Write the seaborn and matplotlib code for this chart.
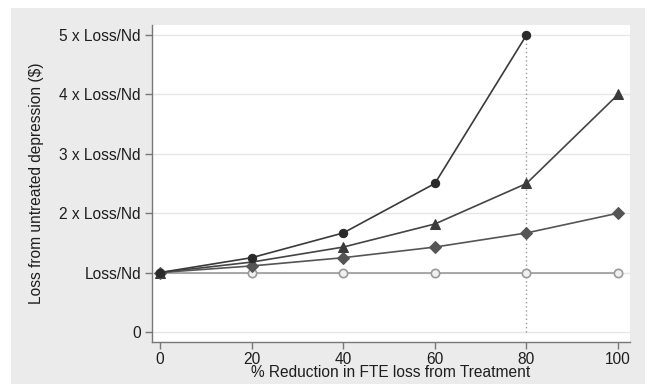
import pandas as pd
import matplotlib.pyplot as plt
from matplotlib.patches import Rectangle
import seaborn as sns

# Values
reduction = [0, 20, 40, 60, 80, 100]
loss_circle = [1.0, 1.25, 1.667, 2.5, 5.0, None]
loss_triangle = [1.0, 1.176, 1.429, 1.818, 2.5, 4.0]
loss_diamond = [1.0, 1.111, 1.25, 1.429, 1.667, 2.0]
loss_flat = [1.0, 1.0, 1.0, 1.0, 1.0, 1.0]
y_ticks = [0, 1, 2, 3, 4, 5]
y_labels = ['0', 'Loss/Nd', '2 x Loss/Nd', '3 x Loss/Nd', '4 x Loss/Nd', '5 x Loss/Nd']

df = pd.DataFrame({'x': reduction, 'circle': loss_circle, 'triangle': loss_triangle,
                   'diamond': loss_diamond, 'flat': loss_flat})

sns.set_style('white')
plt.rcParams['font.family'] = ['Liberation Sans', 'DejaVu Sans']

fig = plt.figure(figsize=(6.47, 3.84), dpi=100)
fig.patch.set_facecolor('white')
fig.patches.append(Rectangle((11 / 647, 0), 634 / 647, 376 / 384, transform=fig.transFigure,
                             facecolor='#ebebeb', edgecolor='none', zorder=-10))
ax = fig.add_axes([152 / 647, 1 - 342 / 384, 478 / 647, 317 / 384])
ax.set_facecolor('white')

# dotted reference line at 80%
ax.plot([80, 80], [0, 5], color='#999999', linestyle=(0, (1, 2)), linewidth=1, zorder=1)

sns.lineplot(data=df, x='x', y='flat', ax=ax, color='#9a9a9a', linewidth=1.2,
             marker='o', markersize=6, markerfacecolor='#f0f0f0', markeredgecolor='#9a9a9a',
             markeredgewidth=1.2, zorder=2)
sns.lineplot(data=df, x='x', y='triangle', ax=ax, color='#444444', linewidth=1.2,
             marker='^', markersize=7, markerfacecolor='#3a3a3a', markeredgecolor='#3a3a3a', zorder=3)
sns.lineplot(data=df, x='x', y='diamond', ax=ax, color='#555555', linewidth=1.2,
             marker='D', markersize=6, markerfacecolor='#555555', markeredgecolor='#555555', zorder=4)
sns.lineplot(data=df.dropna(), x='x', y='circle', ax=ax, color='#3a3a3a', linewidth=1.2,
             marker='o', markersize=6, markerfacecolor='#2a2a2a', markeredgecolor='#2a2a2a', zorder=5)

ax.set_xlim(-1.75, 102.6)
ax.set_ylim(-0.17, 5.17)
ax.set_xticks(reduction)
ax.set_yticks(y_ticks)
ax.set_yticklabels(y_labels)
ax.yaxis.grid(True, color='#e6e6e6', linewidth=1)
ax.set_axisbelow(True)
for s in ['top', 'right']:
    ax.spines[s].set_visible(False)
for s in ['left', 'bottom']:
    ax.spines[s].set_color('#777777')
    ax.spines[s].set_linewidth(1)
ax.tick_params(axis='both', direction='out', length=5, width=1, color='#777777',
               labelsize=11.2, labelcolor='#1e1e1e', pad=3)
ax.tick_params(axis='x', bottom=True, pad=2)
ax.tick_params(axis='y', left=True)
ax.set_xlabel('% Reduction in FTE loss from Treatment', fontsize=11.2, color='#1e1e1e', labelpad=-1)
ax.set_ylabel('Loss from untreated depression ($)', fontsize=11.2, color='#1e1e1e', labelpad=11)

fig.savefig('out.png', dpi=100)
